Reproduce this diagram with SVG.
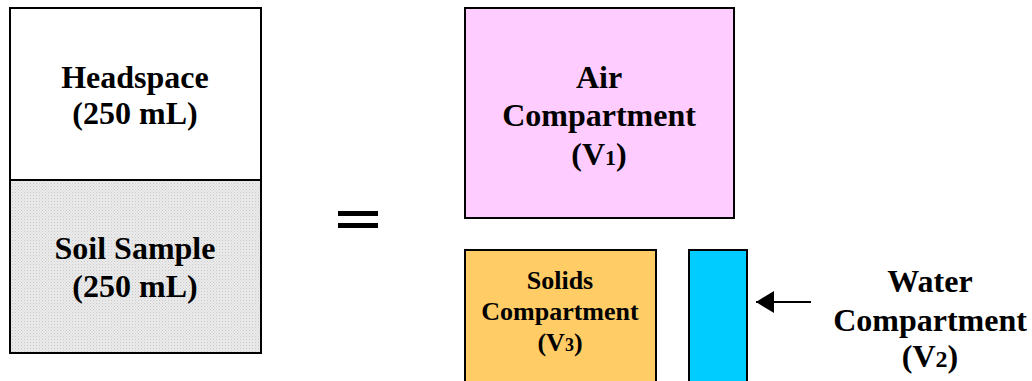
<svg xmlns="http://www.w3.org/2000/svg" width="1032" height="381" viewBox="0 0 1032 381">
<defs>
<pattern id="dots" width="3" height="3" patternUnits="userSpaceOnUse">
<rect width="3" height="3" fill="#ebebeb"/>
<rect x="0" y="0" width="1" height="1" fill="#c8c8c8"/>
<rect x="1.5" y="1.5" width="1" height="1" fill="#d4d4d4"/>
</pattern>
<marker id="ah" markerWidth="18" markerHeight="22" refX="18" refY="11" orient="auto" markerUnits="userSpaceOnUse" viewBox="0 0 18 22">
<path d="M0,0 L18,11 L0,22 Z" fill="#000"/>
</marker>
</defs>
<style>
.box{stroke:#000;stroke-width:2}
.t{font-family:"Liberation Serif","Times New Roman",serif;font-weight:bold;fill:#000;text-anchor:middle}
.big{font-size:32px}
.small{font-size:26px}
</style>
<rect width="1032" height="381" fill="#fff"/>
<g id="headspace">
<rect class="box" x="10" y="8" width="251" height="172" fill="#fff"/>
<text class="t big" x="135" y="88">Headspace</text>
<text class="t big" x="135" y="124">(250 mL)</text>
</g>
<g id="soil">
<rect class="box" x="10" y="180" width="251" height="173" fill="url(#dots)"/>
<text class="t big" x="135" y="259">Soil Sample</text>
<text class="t big" x="135" y="297">(250 mL)</text>
</g>
<g id="equals">
<rect x="338" y="211" width="40" height="5" fill="#000"/>
<rect x="338" y="223" width="40" height="5" fill="#000"/>
</g>
<g id="air">
<rect class="box" x="465" y="8" width="269" height="210" fill="#ffccff"/>
<text class="t big" x="599" y="88">Air</text>
<text class="t big" x="599" y="126">Compartment</text>
<text class="t big" x="599" y="165">(V<tspan font-size="22px">1</tspan>)</text>
</g>
<g id="solids">
<rect class="box" x="465" y="250" width="191" height="140" fill="#ffcc66"/>
<text class="t small" x="560" y="289">Solids</text>
<text class="t small" x="560" y="320">Compartment</text>
<text class="t small" x="560" y="351">(V<tspan font-size="18px">3</tspan>)</text>
</g>
<g id="water">
<rect class="box" x="689" y="250" width="58" height="140" fill="#00ccff"/>
<text class="t big" x="930" y="292">Water</text>
<text class="t big" x="930" y="331">Compartment</text>
<text class="t big" x="930" y="367">(V<tspan font-size="24px">2</tspan>)</text>
</g>
<g id="connectors">
<line x1="811" y1="302" x2="756" y2="302" stroke="#000" stroke-width="2" marker-end="url(#ah)"/>
</g>
</svg>
